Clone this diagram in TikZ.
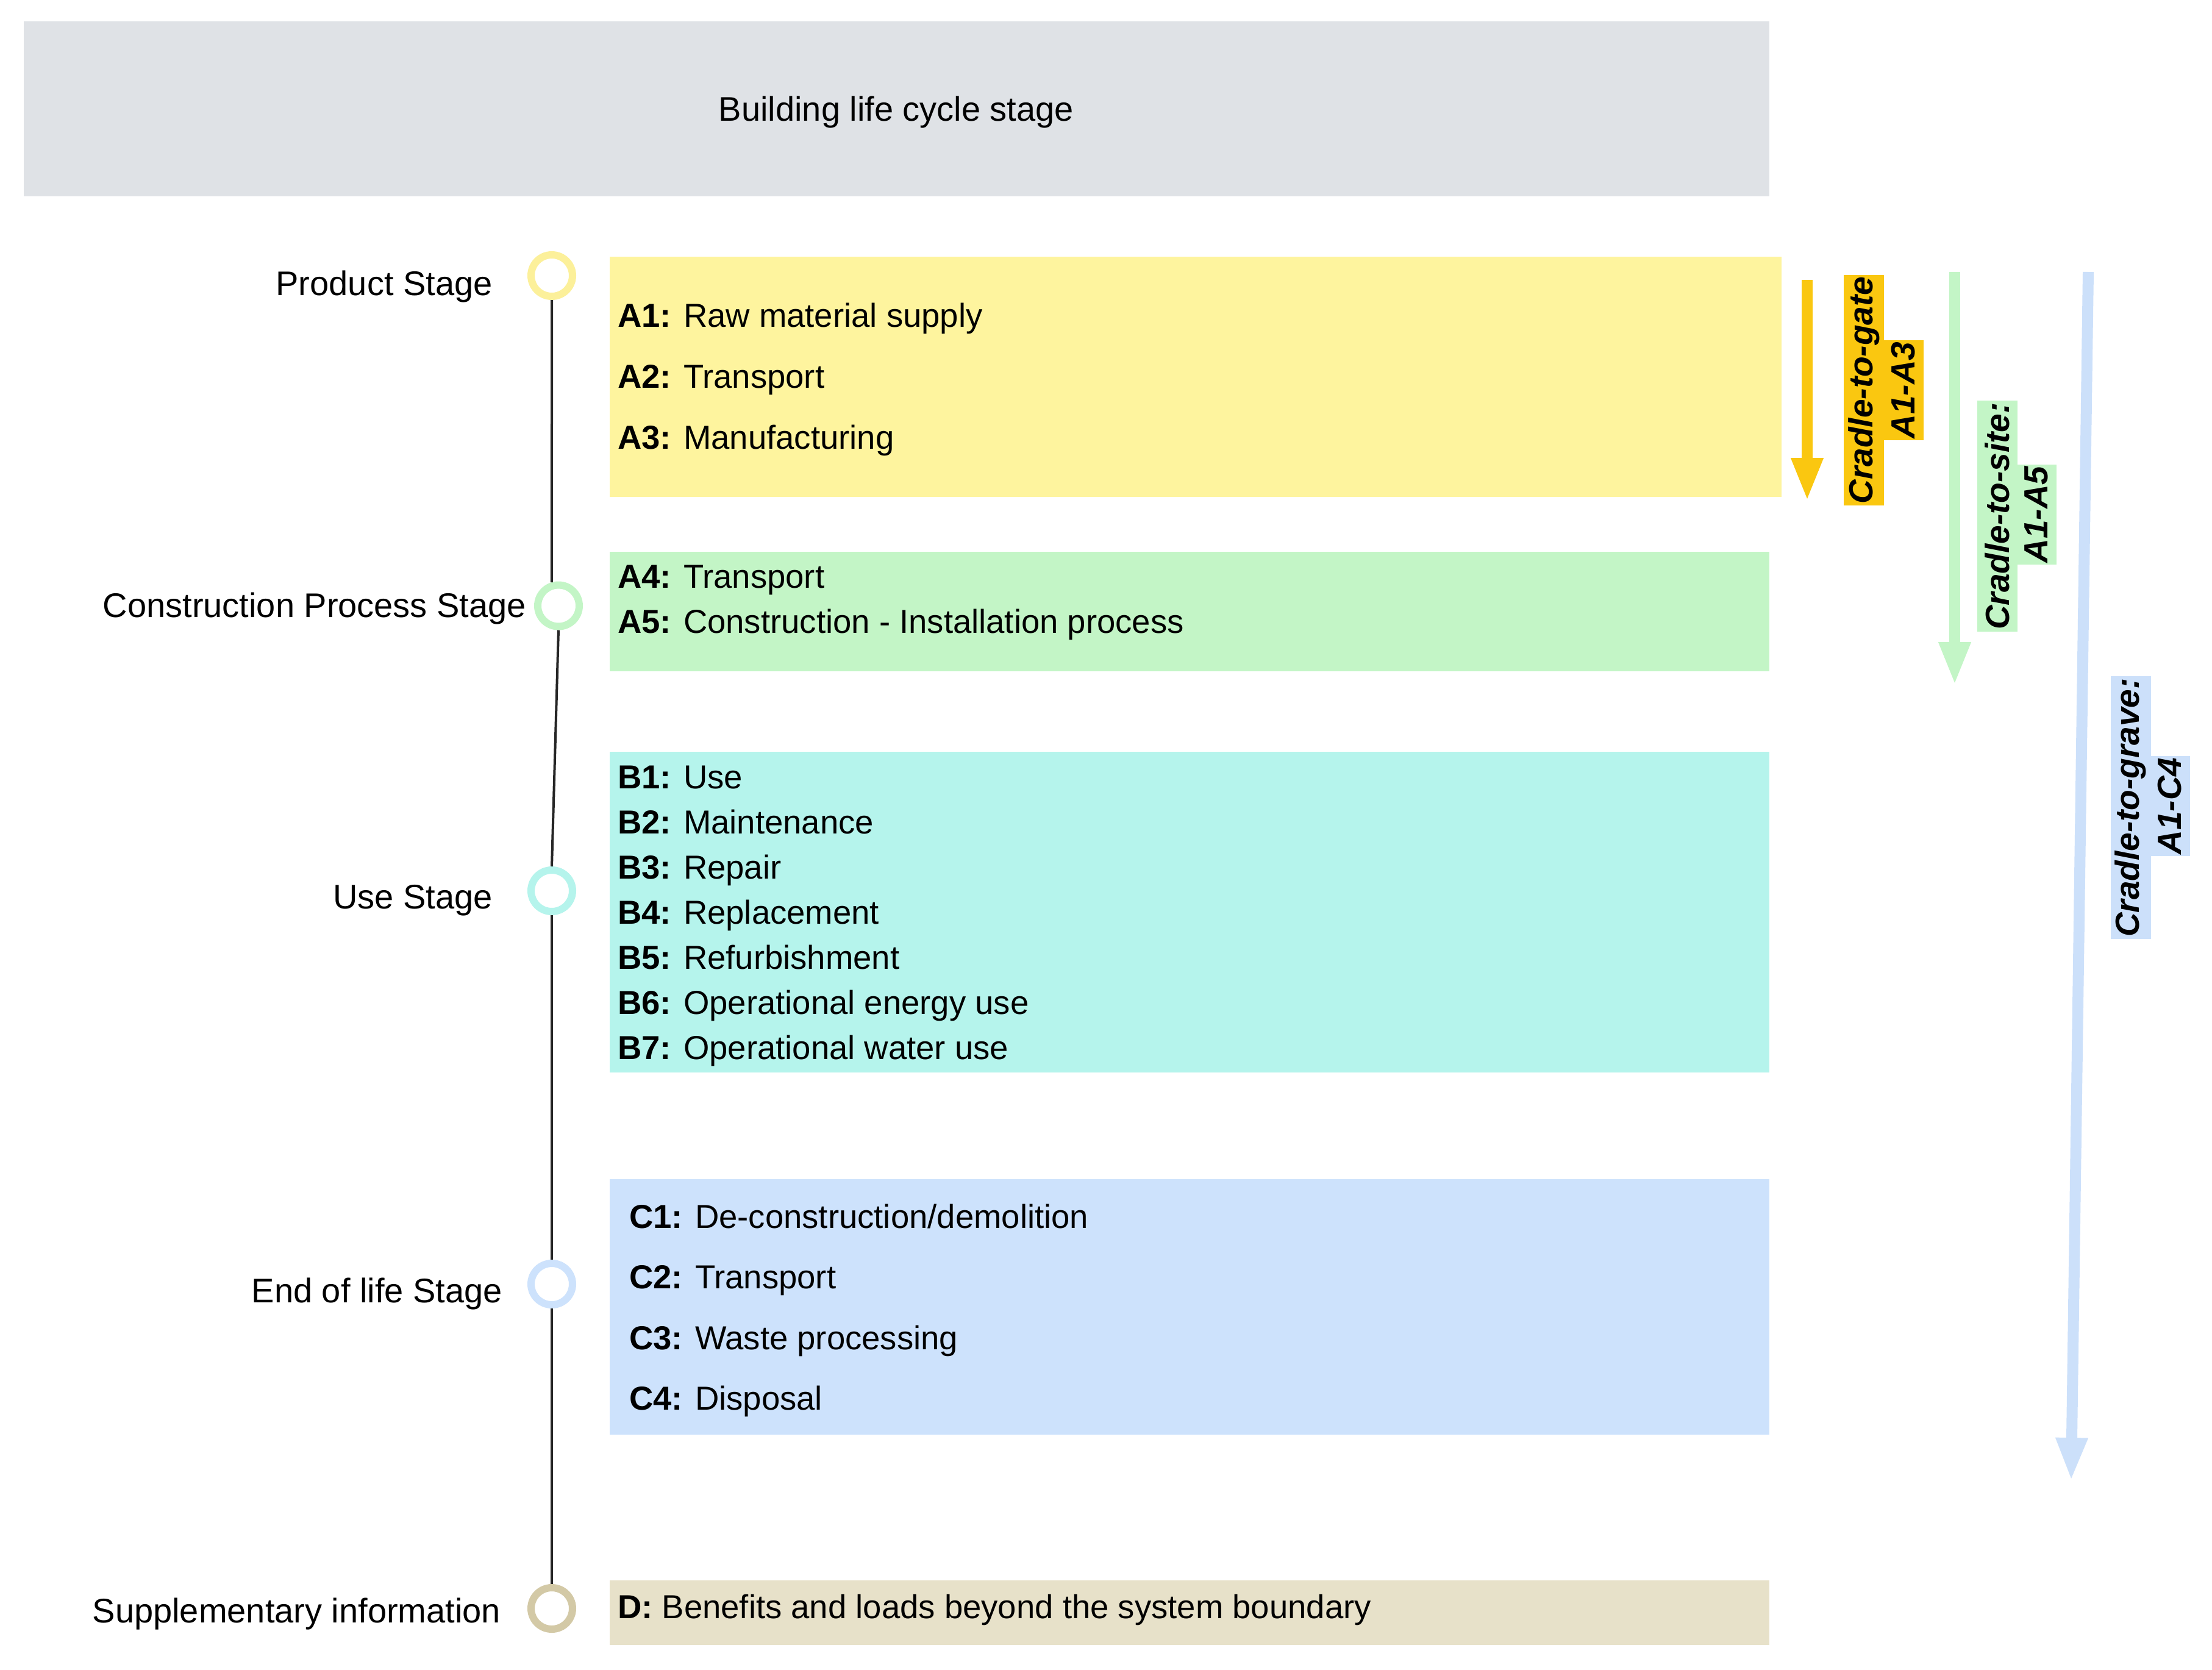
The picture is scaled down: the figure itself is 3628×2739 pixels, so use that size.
\documentclass[tikz,border=0pt]{standalone}
\usepackage{fontspec}
\setmainfont{Liberation Sans}
\usetikzlibrary{arrows.meta}
\definecolor{hdrgray}{HTML}{DFE2E6}
\definecolor{ybox}{HTML}{FEF49E}
\definecolor{gbox}{HTML}{C3F5C6}
\definecolor{tbox}{HTML}{B5F4EC}
\definecolor{bbox}{HTML}{CDE2FC}
\definecolor{dbox}{HTML}{E7E1C9}
\definecolor{ycirc}{HTML}{FCF09A}
\definecolor{dcirc}{HTML}{D3C9A6}
\definecolor{gold}{HTML}{FAC710}
\definecolor{garrow}{HTML}{C3F5C6}
\definecolor{barrow}{HTML}{CCE0FA}
\begin{document}
\begin{tikzpicture}[x=1pt,y=-1pt,
  every node/.style={inner sep=0pt, outer sep=0pt},
  box/.style={anchor=north west, draw=none, rectangle},
  item/.style={anchor=base west, font=\fontsize{54.5}{65}\selectfont},
  stagelbl/.style={anchor=base east, font=\fontsize{56}{67}\selectfont},
  ring/.style={circle, draw=#1, line width=12pt, fill=white, minimum size=68pt, outer sep=6pt},
  tl/.style={line width=4pt, draw=black!85},
  flow/.style={line width=18pt, draw=#1, -{Triangle[width=48pt,length=71pt]}},
  tag/.style={rotate=90, fill=#1, font=\fontsize{55}{66}\selectfont\bfseries\itshape, inner xsep=3pt, minimum height=66pt}
]
\useasboundingbox (0,0) rectangle (3628,2739);
\fill[white] (0,0) rectangle (3628,2739);

% header
\node[box, fill=hdrgray, minimum width=2863pt, minimum height=287pt] (hdr) at (39,35) {};
\node[anchor=base, font=\fontsize{56}{67}\selectfont] (hdrtxt) at (1470,198) {Building life cycle stage};

% stage boxes
\node[box, fill=ybox, minimum width=1922.4pt, minimum height=393.5pt] (boxA) at (999.6,421) {};
\node[box, fill=gbox, minimum width=1901.9pt, minimum height=196.3pt] (boxAA) at (999.6,904.7) {};
\node[box, fill=tbox, minimum width=1901.9pt, minimum height=525.5pt] (boxB) at (999.6,1233) {};
\node[box, fill=bbox, minimum width=1901.9pt, minimum height=419pt] (boxC) at (999.6,1934) {};
\node[box, fill=dbox, minimum width=1901.9pt, minimum height=106.5pt] (boxD) at (999.6,2591.5) {};

% items
\node[item] (a1) at (1013,536) {\textbf{A1:} Raw material supply};
\node[item] (a2) at (1013,636) {\textbf{A2:} Transport};
\node[item] (a3) at (1013,736) {\textbf{A3:} Manufacturing};
\node[item] (a4) at (1013,964) {\textbf{A4:} Transport};
\node[item] (a5) at (1013,1038) {\textbf{A5:} Construction - Installation process};
\node[item] (b1) at (1013,1293) {\textbf{B1:} Use};
\node[item] (b2) at (1013,1367) {\textbf{B2:} Maintenance};
\node[item] (b3) at (1013,1441) {\textbf{B3:} Repair};
\node[item] (b4) at (1013,1515) {\textbf{B4:} Replacement};
\node[item] (b5) at (1013,1589) {\textbf{B5:} Refurbishment};
\node[item] (b6) at (1013,1663) {\textbf{B6:} Operational energy use};
\node[item] (b7) at (1013,1737) {\textbf{B7:} Operational water use};
\node[item] (c1t) at (1032,2014) {\textbf{C1:} De-construction/demolition};
\node[item] (c2t) at (1032,2113) {\textbf{C2:} Transport};
\node[item] (c3t) at (1032,2213) {\textbf{C3:} Waste processing};
\node[item] (c4t) at (1032,2312) {\textbf{C4:} Disposal};
\node[item] (dt) at (1013,2654) {\textbf{D:} Benefits and loads beyond the system boundary};

% timeline
\node[ring=ycirc] (c1) at (905,452) {};
\node[ring=gbox] (c2) at (916,993.5) {};
\node[ring=tbox] (c3) at (905,1461) {};
\node[ring=bbox] (c4) at (905,2106) {};
\node[ring=dcirc] (c5) at (905,2638) {};
\draw[tl] (c1.south) -- (c2.106);
\draw[tl] (c2.south) -- (c3.north);
\draw[tl] (c3) -- (c4);
\draw[tl] (c4) -- (c5);

% stage labels
\node[stagelbl] (l1) at (807.5,484) {Product Stage};
\node[stagelbl] (l2) at (863,1012) {Construction Process Stage};
\node[stagelbl] (l3) at (807.5,1490) {Use Stage};
\node[stagelbl] (l4) at (823.7,2136) {End of life Stage};
\node[stagelbl] (l5) at (821,2661) {Supplementary information};

% flow arrows
\coordinate (ya1) at (2964,459);
\coordinate (ya2) at (2964,822);
\draw[flow=gold] (ya1) -- (ya2);
\coordinate (ga1) at (3206,446);
\coordinate (ga2) at (3206,1124);
\draw[flow=garrow] (ga1) -- (ga2);
\coordinate (ba1) at (3425,446);
\coordinate (ba2) at (3397,2429);
\draw[flow=barrow] (ba1) -- (ba2);

% tags
\node[tag=gold] (t1a) at (3057,640) {Cradle-to-gate};
\node[tag=gold] (t1b) at (3122,640) {A1-A3};
\node[tag=garrow] (t2a) at (3275.5,846.5) {Cradle-to-site:};
\node[tag=garrow] (t2b) at (3340,844) {A1-A5};
\node[tag=barrow] (t3a) at (3494.5,1324.5) {Cradle-to-grave:};
\node[tag=barrow] (t3b) at (3559,1322) {A1-C4};
\end{tikzpicture}
\end{document}
